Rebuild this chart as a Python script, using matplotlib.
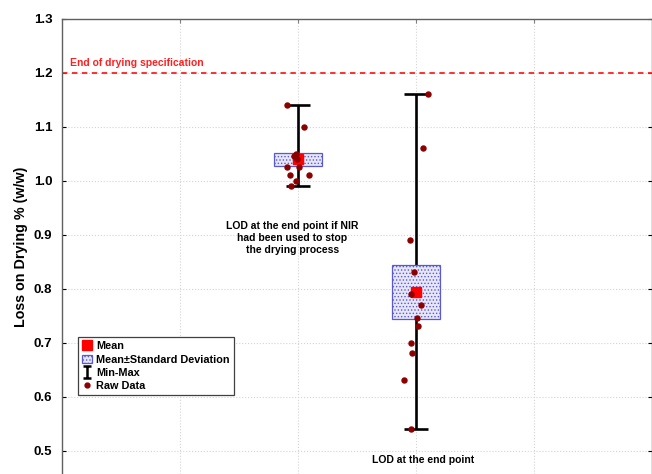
import numpy as np
import matplotlib.pyplot as plt
from matplotlib.lines import Line2D
from matplotlib.patches import Patch
from matplotlib.path import Path

plt.rcParams['font.family'] = ['Liberation Sans', 'DejaVu Sans']
plt.rcParams['hatch.color'] = '#8c8cd8'
plt.rcParams['hatch.linewidth'] = 0.6

# raw LOD readings and their horizontal jitter for the two groups
nir_lod = [1.14, 1.10, 1.05, 1.045, 1.04, 1.025, 1.025, 1.01, 1.01, 1.00, 0.99]
nir_jitter = [-0.09, 0.05, -0.02, -0.03, -0.01, -0.09, 0.01, -0.07, 0.09, -0.02, -0.06]
end_lod = [1.16, 1.06, 0.89, 0.83, 0.79, 0.77, 0.745, 0.73, 0.70, 0.68, 0.63, 0.54]
end_jitter = [0.10, 0.06, -0.05, -0.02, -0.04, 0.04, 0.01, 0.02, -0.04, -0.03, -0.10, -0.04]

# half height of the shaded box around each mean
box_half = [0.0125, 0.05]

spec_limit = 1.2
group_labels = ['LOD at the end point if NIR\nhad been used to stop\nthe drying process',
                'LOD at the end point']

# I-beam marker for the min-max legend entry
ibeam = Path([(-0.6, 1), (0.6, 1), (0, 1), (0, -1), (-0.6, -1), (0.6, -1)],
             [Path.MOVETO, Path.LINETO, Path.MOVETO, Path.LINETO, Path.MOVETO, Path.LINETO])

fig = plt.figure(figsize=(6.52, 4.74), dpi=100)
ax = fig.add_axes([62 / 652, 0.0, 590 / 652, 1 - 18.7 / 474])

positions = [2, 3]
groups = [(nir_lod, nir_jitter), (end_lod, end_jitter)]

for pos, (vals, jit), half in zip(positions, groups, box_half):
    vals = np.array(vals)
    m = vals.mean()
    lo, hi = vals.min(), vals.max()
    ax.errorbar([pos], [m], yerr=[[m - lo], [hi - m]], fmt='none', ecolor='black',
                elinewidth=1.9, capsize=8.8, capthick=1.9, zorder=2)
    ax.bar([pos], [2 * half], bottom=[m - half], width=0.4, color='#e6e6f7',
           edgecolor='#5a5ad0', linewidth=0.9, hatch='.....', zorder=3)
    ax.plot([pos], [m], 's', color='#ff0000', markersize=6.5, zorder=4)
    ax.plot(pos + np.array(jit), vals, 'o', color='#8b0000', markersize=3.6, zorder=5)

ax.axhline(spec_limit, color='#ff2020', linestyle=(0, (3, 2.5)), linewidth=1.3, zorder=1)
ax.text(0.07, spec_limit + 0.009, 'End of drying specification', color='#ff2020',
        fontsize=7.5, fontweight='bold', ha='left', va='bottom')

ax.text(1.95, 0.893, group_labels[0], fontsize=7.5, fontweight='bold',
        ha='center', va='center', linespacing=1.25)
ax.text(3.06, 0.4825, group_labels[1], fontsize=7.5, fontweight='bold',
        ha='center', va='center')

ax.set_xlim(0, 5)
ax.set_ylim(0.4565, 1.3)
ticks = np.arange(0.5, 1.31, 0.1)
ax.set_yticks(ticks)
ax.set_yticklabels([f'{v:.1f}' for v in ticks], fontsize=9.5, fontweight='bold')
ax.set_xticks([1, 2, 3, 4])
ax.tick_params(axis='y', direction='in', length=3, left=True, right=True, pad=7)
ax.tick_params(axis='x', direction='in', length=3, top=True, bottom=False,
               labelbottom=False, color='#808080')
ax.grid(True, color='#d4d4d4', linestyle=':', linewidth=0.8)
ax.set_axisbelow(True)
for side in ['left', 'top', 'right']:
    ax.spines[side].set_color('#606060')
    ax.spines[side].set_linewidth(1.0)
ax.spines['bottom'].set_visible(False)
ax.set_ylabel('Loss on Drying % (w/w)', fontsize=10.3, fontweight='bold')
ax.yaxis.set_label_coords(-0.058, 0.5)

handles = [
    Line2D([], [], marker='s', color='#ff0000', linestyle='none', markersize=7),
    Patch(facecolor='#e6e6f7', edgecolor='#5a5ad0', hatch='.....', linewidth=0.9),
    Line2D([], [], marker=ibeam, color='black', linestyle='none', markersize=9,
           markeredgewidth=1.8),
    Line2D([], [], marker='o', color='#8b0000', linestyle='none', markersize=3.5),
]
labels = ['Mean', 'Mean±Standard Deviation', 'Min-Max', 'Raw Data']
leg = ax.legend(handles, labels, loc='upper left', bbox_to_anchor=(0.0266, 0.301),
                borderaxespad=0, prop={'weight': 'bold', 'size': 7.8},
                handlelength=0.9, handletextpad=0.4, labelspacing=0.3,
                borderpad=0.4, fancybox=False, framealpha=1)
leg.get_frame().set_edgecolor('#404040')
leg.get_frame().set_linewidth(0.9)

fig.savefig('out.png', dpi=100)
